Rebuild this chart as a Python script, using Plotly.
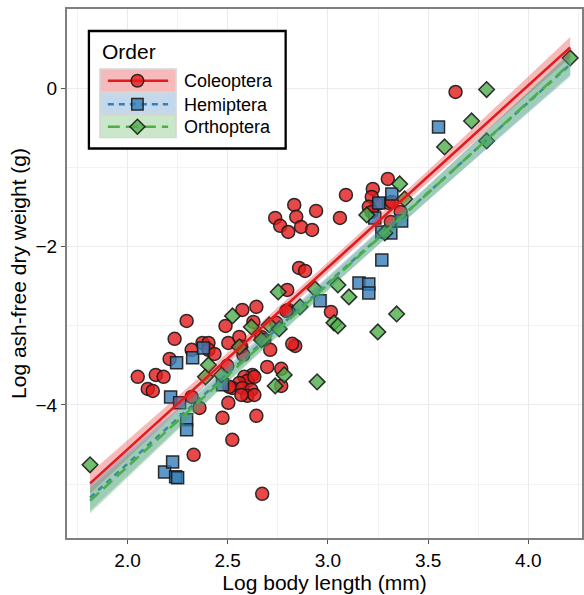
import numpy as np
import plotly.graph_objects as go

# ---------------- data ----------------
orders = ["Coleoptera", "Hemiptera", "Orthoptera"]

coleoptera_x = [2.051, 2.101, 2.126, 2.141, 2.180, 2.210, 2.235, 2.295, 2.320, 2.374,
                2.404, 2.404, 2.434, 2.320, 2.359, 2.330, 2.489, 2.573, 2.643, 2.503,
                2.558, 2.568, 2.628, 2.668, 2.683, 2.712, 2.742, 2.802, 2.837, 2.822,
                2.498, 2.697, 2.767, 2.767, 2.623, 2.583, 2.598, 2.558, 2.523, 2.573,
                2.618, 2.598, 2.633, 2.568, 2.508, 2.633, 2.503, 2.643, 2.474, 2.523,
                2.672, 2.578, 2.792, 3.015, 2.856, 2.886, 2.797,
                2.737, 2.762, 2.802, 2.832, 2.842, 2.866, 2.921, 2.941, 3.060, 3.090,
                3.299, 3.224, 3.219, 3.249, 3.204, 3.219, 3.304, 3.319, 3.363, 3.314, 3.637]
coleoptera_y = [-3.645, -3.797, -3.822, -3.620, -3.645, -3.418, -3.165, -2.938, -3.304, -3.216,
                -3.216, -3.304, -3.355, -3.898, -4.037, -4.630, -3.001, -2.799, -2.761, -3.216,
                -3.140, -3.266, -2.951, -3.140, -3.178, -3.304, -2.963, -2.799, -3.254, -3.228,
                -3.506, -3.519, -3.544, -3.759, -3.620, -3.645, -3.696, -3.721, -3.784, -3.784,
                -3.809, -3.885, -3.873, -3.873, -3.771, -3.645, -3.973, -4.137, -4.162, -4.440,
                -5.122, -3.367, -2.812, -2.825, -2.269, -2.307, -2.547,
                -1.637, -1.738, -1.815, -1.474, -1.624, -1.751, -1.789, -1.549, -1.637, -1.347,
                -1.145, -1.271, -1.372, -1.461, -1.498, -1.562, -1.449, -1.436, -1.562, -1.688, -0.047]

hemiptera_x = [2.185, 2.225, 2.240, 2.250, 2.215, 2.260, 2.295, 2.295, 2.245, 2.325,
               2.379, 2.474, 2.961, 3.155, 3.204, 3.204, 3.269, 3.234, 3.269, 3.314,
               3.368, 3.319, 3.254, 3.552]
hemiptera_y = [-4.845, -4.719, -4.908, -4.920, -3.898, -3.973, -4.188, -4.314, -3.468, -3.405,
               -3.279, -3.746, -2.685, -2.458, -2.471, -2.585, -2.168, -1.638, -1.814, -1.827,
               -1.676, -1.335, -1.449, -0.489]

orthoptera_x = [1.813, 2.389, 2.404, 2.469, 2.524, 2.558, 2.618, 2.668, 2.707, 2.737,
                2.752, 2.757, 2.782, 2.861, 2.936, 3.050, 3.105, 3.030, 3.050, 2.946,
                3.194, 3.284, 3.358, 3.383, 3.343, 3.249, 3.582, 3.717, 3.792, 3.792, 4.209]
orthoptera_y = [-4.756, -3.645, -3.494, -3.620, -2.875, -3.266, -3.014, -3.178, -2.989, -3.759,
                -2.572, -3.039, -3.620, -2.761, -2.534, -2.484, -2.635, -2.963, -3.001, -3.708,
                -1.600, -1.827, -1.208, -1.398, -2.850, -3.077, -0.741, -0.413, -0.016, -0.665, 0.383]

# fitted regression lines with 95% confidence band
smooth_x = [1.813, 2.5, 3.0, 3.5, 4.209]
coleoptera_fit = [-4.990, -3.411, -2.262, -1.113, 0.516]
coleoptera_lo = [-5.120, -3.486, -2.327, -1.188, 0.386]
coleoptera_hi = [-4.860, -3.336, -2.197, -1.038, 0.646]
hemiptera_fit = [-5.170, -3.602, -2.460, -1.319, 0.300]
hemiptera_lo = [-5.340, -3.702, -2.545, -1.414, 0.150]
hemiptera_hi = [-5.000, -3.502, -2.375, -1.224, 0.450]
orthoptera_fit = [-5.210, -3.627, -2.475, -1.323, 0.311]
orthoptera_lo = [-5.370, -3.717, -2.555, -1.413, 0.171]
orthoptera_hi = [-5.050, -3.537, -2.395, -1.233, 0.451]

x_ticks = [2.0, 2.5, 3.0, 3.5, 4.0]
x_tick_labels = ["2.0", "2.5", "3.0", "3.5", "4.0"]
y_ticks = [0, -2, -4]
y_tick_labels = ["0", "\u22122", "\u22124"]

# ---------------- styles ----------------
line_rgb = {"Coleoptera": (228, 26, 28), "Hemiptera": (55, 126, 184), "Orthoptera": (77, 175, 74)}
symbols = {"Coleoptera": "circle", "Hemiptera": "square", "Orthoptera": "diamond"}
msizes = {"Coleoptera": 13, "Hemiptera": 12, "Orthoptera": 12}
dashes = {"Coleoptera": "solid", "Hemiptera": "6px,5px", "Orthoptera": "12px,6px"}

points = {
    "Coleoptera": (coleoptera_x, coleoptera_y),
    "Hemiptera": (hemiptera_x, hemiptera_y),
    "Orthoptera": (orthoptera_x, orthoptera_y),
}
smooths = {
    "Coleoptera": (coleoptera_fit, coleoptera_lo, coleoptera_hi),
    "Hemiptera": (hemiptera_fit, hemiptera_lo, hemiptera_hi),
    "Orthoptera": (orthoptera_fit, orthoptera_lo, orthoptera_hi),
}


def rgba(c, a):
    return "rgba(%d,%d,%d,%.2f)" % (c[0], c[1], c[2], a)


def tint(c, a):
    return "rgb(%d,%d,%d)" % tuple(int(round(255 - a * (255 - v))) for v in c)


OUTLINE = "rgba(25,25,25,0.9)"

fig = go.Figure()

# points first
for o in orders:
    x, y = points[o]
    c = line_rgb[o]
    fig.add_trace(go.Scatter(
        x=x, y=y, mode="markers", name=o, showlegend=False,
        marker=dict(symbol=symbols[o], size=msizes[o], color=rgba(c, 0.8),
                    line=dict(color=OUTLINE, width=1.5)),
        hoverinfo="skip"))

# smooth ribbons + lines drawn over the points
for o in orders:
    c = line_rgb[o]
    fit, lo, hi = smooths[o]
    fig.add_trace(go.Scatter(
        x=smooth_x + smooth_x[::-1], y=hi + lo[::-1],
        fill="toself", fillcolor=rgba(c, 0.3), line=dict(width=0),
        mode="lines", showlegend=False, hoverinfo="skip"))
    fig.add_trace(go.Scatter(
        x=smooth_x, y=fit, mode="lines", showlegend=False, hoverinfo="skip",
        line=dict(color=rgba(c, 1), width=2.6, dash=dashes[o])))

W, H = 584, 595
ML, MR, MT, MB = 67, 0, 9, 57
PW, PH = W - ML - MR, H - MT - MB


def pxx(xp):
    return (xp - ML) / PW


def pxy(yp):
    return (H - MB - yp) / PH


shapes = []
annotations = []


def prect(x0, y0, x1, y1, **kw):
    shapes.append(dict(type="rect", xref="paper", yref="paper",
                       x0=pxx(x0), x1=pxx(x1), y0=pxy(y1), y1=pxy(y0), layer="above", **kw))


# legend box (drawn as layout decoration)
prect(89, 31, 286.5, 148.5, fillcolor="white", line=dict(color="black", width=2.3))
prect(99.3, 68.3, 177.3, 138.3, fillcolor="#d6d6d6", line=dict(width=0))
key_rows = [(70, 91, 80.8), (93.5, 113.8, 104.2), (116, 137, 126.7)]
for o, (ya, yb, yc) in zip(orders, key_rows):
    c = line_rgb[o]
    prect(101, ya, 175.5, yb, fillcolor=tint(c, 0.3), line=dict(width=0))
    shapes.append(dict(type="line", xref="paper", yref="paper",
                       x0=pxx(108), x1=pxx(168.5), y0=pxy(yc), y1=pxy(yc), layer="above",
                       line=dict(color=rgba(c, 1), width=2.6, dash=dashes[o])))
    cx = 137.7
    mfill = rgba(c, 0.8)
    mline = dict(color=OUTLINE, width=1.5)
    if symbols[o] == "circle":
        shapes.append(dict(type="circle", xref="paper", yref="paper", layer="above",
                           x0=pxx(cx - 6.3), x1=pxx(cx + 6.3), y0=pxy(yc + 6.3), y1=pxy(yc - 6.3),
                           fillcolor=mfill, line=mline))
    elif symbols[o] == "square":
        shapes.append(dict(type="rect", xref="paper", yref="paper", layer="above",
                           x0=pxx(cx - 5.7), x1=pxx(cx + 5.7), y0=pxy(yc + 5.7), y1=pxy(yc - 5.7),
                           fillcolor=mfill, line=mline))
    else:
        d = 7.5
        path = "M %f %f L %f %f L %f %f L %f %f Z" % (
            pxx(cx), pxy(yc - d), pxx(cx + d), pxy(yc), pxx(cx), pxy(yc + d), pxx(cx - d), pxy(yc))
        shapes.append(dict(type="path", xref="paper", yref="paper", layer="above",
                           path=path, fillcolor=mfill, line=mline))
    annotations.append(dict(text=o, xref="paper", yref="paper", x=pxx(182), y=pxy(yc + 0.5),
                            xanchor="left", yanchor="middle", showarrow=False,
                            font=dict(size=18, color="black")))

annotations.append(dict(text="Order", xref="paper", yref="paper", x=pxx(100), y=pxy(51.5),
                        xanchor="left", yanchor="middle", showarrow=False,
                        font=dict(size=21, color="black")))

fig.update_layout(
    width=W, height=H,
    margin=dict(l=ML, r=MR, t=MT, b=MB),
    paper_bgcolor="white", plot_bgcolor="white",
    font=dict(family="Liberation Sans, Arial, sans-serif", color="black"),
    shapes=shapes, annotations=annotations, showlegend=False,
    xaxis=dict(range=[1.698, 4.268], tickvals=x_ticks, ticktext=x_tick_labels,
               showgrid=True, gridcolor="#ebebeb", gridwidth=1,
               minor=dict(dtick=0.25, tick0=0, showgrid=True, gridcolor="#f2f2f2", gridwidth=1),
               showline=True, linecolor="#7f7f7f", linewidth=2, mirror=True,
               ticks="outside", ticklen=4, tickcolor="#555", tickwidth=1,
               tickfont=dict(size=19, color="black"), zeroline=False,
               title=dict(text="Log body length (mm)", font=dict(size=21), standoff=2)),
    yaxis=dict(range=[-5.68, 1.001], tickvals=y_ticks, ticktext=y_tick_labels,
               showgrid=True, gridcolor="#ebebeb", gridwidth=1,
               minor=dict(dtick=1, tick0=0, showgrid=True, gridcolor="#f2f2f2", gridwidth=1),
               showline=True, linecolor="#7f7f7f", linewidth=2, mirror=True,
               ticks="outside", ticklen=4, tickcolor="#555", tickwidth=1,
               tickfont=dict(size=19, color="black"), zeroline=False,
               title=dict(text="Log ash-free dry weight (g)", font=dict(size=21), standoff=3)),
)

fig.write_html("out.html")
